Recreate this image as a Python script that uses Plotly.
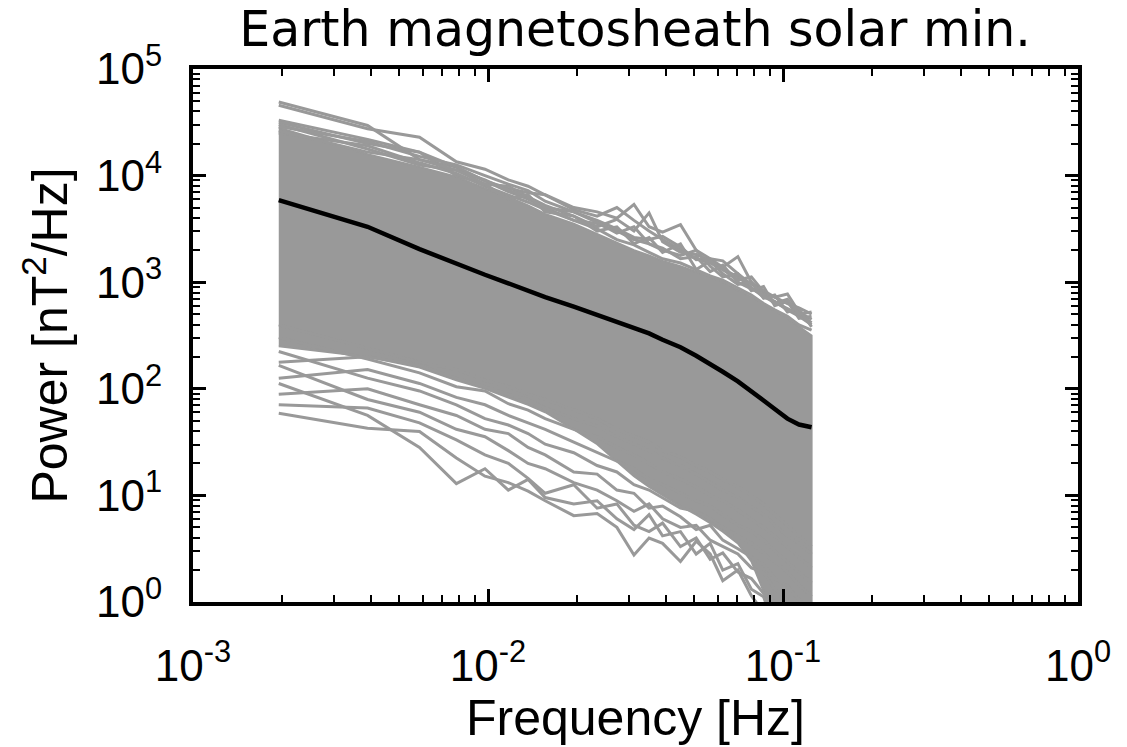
import numpy as np
import plotly.graph_objects as go

# Frequencies (Hz) of the spectral estimates shown
freq = [0.001953, 0.003906, 0.005859, 0.007813, 0.009766, 0.011719, 0.013672,
        0.015625, 0.019531, 0.023438, 0.027344, 0.03125, 0.035156, 0.039063,
        0.044922, 0.050781, 0.056641, 0.0625, 0.070313, 0.078125, 0.085938,
        0.09375, 0.103516, 0.113281, 0.125]

# log10 power [nT^2/Hz]
mean_log = [3.77, 3.52, 3.31, 3.17, 3.07, 2.99, 2.92, 2.86, 2.77, 2.69, 2.63, 2.57,
            2.52, 2.46, 2.39, 2.31, 2.235, 2.16, 2.07, 1.98, 1.89, 1.81, 1.72, 1.665, 1.64]

# dense bundle of individual spectra: upper and lower edge
core_upper_log = [4.45, 4.20, 4.08, 3.99, 3.88, 3.80, 3.72, 3.64, 3.55, 3.45, 3.37, 3.30,
                  3.25, 3.20, 3.15, 3.10, 3.05, 3.00, 2.93, 2.86, 2.80, 2.73, 2.66, 2.58, 2.50]
core_lower_log = [2.40, 2.30, 2.20, 2.08, 2.00, 1.92, 1.85, 1.78, 1.62, 1.48, 1.32, 1.18,
                  1.08, 1.00, 0.90, 0.82, 0.74, 0.66, 0.55, 0.38, 0.10, -0.30, -0.30, -0.30, -0.30]

# individual spectra at the edges of the bundle
upper_spectra_log = [
    [4.69, 4.47, 4.15, 4.08, 3.95, 3.85, 3.78, 3.70, 3.58, 3.50, 3.40, 3.35, 3.28, 3.22,
     3.18, 3.12, 3.06, 3.02, 2.95, 2.88, 2.80, 2.74, 2.68, 2.60, 2.55],
    [4.66, 4.44, 4.36, 4.13, 4.06, 3.96, 3.90, 3.82, 3.68, 3.62, 3.70, 3.58, 3.48, 3.40,
     3.30, 3.22, 3.18, 3.12, 3.05, 2.95, 2.86, 2.82, 2.74, 2.68, 2.60],
    [4.52, 4.34, 4.22, 4.08, 3.95, 3.88, 3.84, 3.82, 3.70, 3.66, 3.60, 3.73, 3.52, 3.47,
     3.54, 3.30, 3.22, 3.14, 3.24, 3.00, 2.90, 2.86, 2.89, 2.72, 2.65],
    [4.50, 4.30, 4.22, 4.00, 3.92, 3.90, 3.80, 3.72, 3.62, 3.52, 3.59, 3.48, 3.65, 3.38,
     3.28, 3.26, 3.20, 3.12, 3.02, 3.05, 2.91, 2.81, 2.75, 2.70, 2.62],
    [4.48, 4.25, 4.10, 4.05, 3.96, 3.86, 3.80, 3.70, 3.66, 3.58, 3.50, 3.42, 3.40, 3.43,
     3.33, 3.21, 3.22, 3.20, 3.08, 2.98, 2.92, 2.86, 2.80, 2.76, 2.70],
    [4.40, 4.28, 4.12, 4.02, 3.90, 3.82, 3.75, 3.68, 3.58, 3.55, 3.48, 3.40, 3.36, 3.30,
     3.25, 3.30, 3.15, 3.05, 3.08, 2.92, 2.96, 2.78, 2.82, 2.66, 2.68],
    [4.42, 4.22, 4.15, 4.05, 3.92, 3.78, 3.82, 3.66, 3.62, 3.48, 3.52, 3.36, 3.42, 3.28,
     3.36, 3.12, 3.20, 3.08, 2.98, 3.00, 2.85, 2.88, 2.72, 2.75, 2.58],
    [4.46, 4.32, 4.18, 4.10, 4.00, 3.92, 3.86, 3.76, 3.66, 3.56, 3.46, 3.52, 3.36, 3.32,
     3.22, 3.24, 3.10, 3.16, 3.00, 2.94, 2.88, 2.80, 2.84, 2.70, 2.72],
]
lower_spectra_log = [
    [1.77, 1.63, 1.60, 1.35, 1.18, 1.12, 1.04, 0.95, 0.81, 0.83, 0.70, 0.44, 0.60, 0.55,
     0.38, 0.57, 0.45, 0.20, 0.30, 0.06, -0.10, -0.20, -0.30, -0.30, -0.30],
    [2.05, 1.75, 1.45, 1.11, 1.25, 1.05, 1.15, 0.98, 0.92, 0.95, 0.78, 0.68, 0.82, 0.62,
     0.66, 0.45, 0.55, 0.30, 0.36, 0.12, 0.05, -0.25, -0.20, -0.30, -0.30],
    [1.85, 1.82, 1.68, 1.52, 1.38, 1.30, 1.16, 1.02, 1.10, 0.88, 0.92, 0.72, 0.66, 0.74,
     0.52, 0.60, 0.40, 0.46, 0.28, 0.22, 0.08, 0.00, -0.20, -0.25, -0.30],
    [2.22, 1.90, 1.78, 1.62, 1.55, 1.42, 1.30, 1.25, 1.12, 1.05, 0.95, 0.85, 0.92, 0.78,
     0.70, 0.72, 0.58, 0.52, 0.45, 0.32, 0.28, 0.12, 0.02, -0.10, -0.20],
    [1.95, 2.00, 1.85, 1.75, 1.62, 1.58, 1.45, 1.38, 1.22, 1.20, 1.05, 1.02, 0.88, 0.90,
     0.80, 0.68, 0.72, 0.58, 0.50, 0.42, 0.35, 0.22, 0.15, 0.02, -0.10],
    [2.35, 2.10, 1.98, 1.85, 1.72, 1.66, 1.58, 1.48, 1.40, 1.28, 1.22, 1.10, 1.05, 0.98,
     0.88, 0.85, 0.78, 0.70, 0.62, 0.55, 0.46, 0.38, 0.28, 0.16, 0.05],
    [2.10, 2.18, 2.05, 1.92, 1.85, 1.75, 1.68, 1.62, 1.50, 1.40, 1.32, 1.25, 1.15, 1.10,
     1.02, 0.95, 0.90, 0.82, 0.72, 0.66, 0.58, 0.48, 0.38, 0.28, 0.18],
    [2.48, 2.28, 2.15, 2.02, 1.98, 1.86, 1.80, 1.72, 1.62, 1.55, 1.45, 1.38, 1.30, 1.22,
     1.15, 1.08, 1.00, 0.95, 0.86, 0.78, 0.70, 0.62, 0.52, 0.42, 0.32],
    [2.25, 2.30, 2.22, 2.10, 2.02, 1.95, 1.90, 1.82, 1.72, 1.65, 1.55, 1.48, 1.42, 1.35,
     1.28, 1.20, 1.12, 1.05, 0.98, 0.90, 0.82, 0.72, 0.62, 0.55, 0.45],
    [2.60, 2.38, 2.25, 2.18, 2.08, 2.02, 1.95, 1.90, 1.80, 1.72, 1.62, 1.56, 1.50, 1.42,
     1.36, 1.28, 1.22, 1.15, 1.08, 1.00, 0.92, 0.82, 0.72, 0.62, 0.52],
]

x_tick_vals = [1e-3, 1e-2, 1e-1, 1e0]
x_tick_text = ['10<sup>-3</sup>', '10<sup>-2</sup>', '10<sup>-1</sup>', '10<sup>0</sup>']
y_tick_vals = [1e0, 1e1, 1e2, 1e3, 1e4, 1e5]
y_tick_text = ['10<sup>0</sup>', '10<sup>1</sup>', '10<sup>2</sup>', '10<sup>3</sup>',
               '10<sup>4</sup>', '10<sup>5</sup>']

GRAY = 'rgb(153,153,153)'

fig = go.Figure()

poly_x = list(freq) + list(freq[::-1])
poly_y = list(np.power(10.0, core_upper_log)) + list(np.power(10.0, core_lower_log[::-1]))
fig.add_trace(go.Scatter(x=poly_x, y=poly_y, fill='toself', fillcolor=GRAY,
                         mode='lines', line=dict(color=GRAY, width=2),
                         hoverinfo='skip', showlegend=False))

for s in upper_spectra_log + lower_spectra_log:
    fig.add_trace(go.Scatter(x=freq, y=np.power(10.0, s), mode='lines',
                             line=dict(color=GRAY, width=3), showlegend=False))

fig.add_trace(go.Scatter(x=freq, y=np.power(10.0, mean_log), mode='lines',
                         line=dict(color='black', width=4.5), showlegend=False))

minor_x = [m * 10.0 ** e for e in range(-3, 0) for m in range(2, 10)]
minor_y = [m * 10.0 ** e for e in range(0, 5) for m in range(2, 10)]

tickfont = dict(family='Liberation Sans', size=44, color='black')
axis_common = dict(type='log', showline=True, linecolor='black', linewidth=4,
                   mirror='ticks', ticks='inside', ticklen=13, tickwidth=3,
                   tickcolor='black', showgrid=False, zeroline=False,
                   tickmode='array', tickfont=tickfont)

fig.update_layout(
    width=1127, height=747,
    paper_bgcolor='white', plot_bgcolor='white',
    margin=dict(l=193, r=49, t=69, b=145),
    title=dict(text='Earth magnetosheath solar min.', x=0.5635, xanchor='center',
               y=0.962, yanchor='middle', yref='container',
               font=dict(family='DejaVu Sans', size=49, color='black')),
    xaxis=dict(range=[-3, 0], tickvals=x_tick_vals, ticktext=x_tick_text,
               minor=dict(tickmode='array', tickvals=minor_x, ticks='inside',
                          ticklen=7, tickwidth=2, tickcolor='black', showgrid=False),
               ticklabelstandoff=22,
               title=dict(text='Frequency [Hz]', standoff=2,
                          font=dict(family='Liberation Sans', size=50, color='black')),
               **axis_common),
    yaxis=dict(range=[0, 5], tickvals=y_tick_vals, ticktext=y_tick_text,
               minor=dict(tickmode='array', tickvals=minor_y, ticks='inside',
                          ticklen=7, tickwidth=2, tickcolor='black', showgrid=False),
               ticklabelstandoff=18,
               title=dict(text='Power [nT<sup>2</sup>/Hz]', standoff=14,
                          font=dict(family='Liberation Sans', size=50, color='black')),
               **axis_common),
)

fig.write_html('out.html')
